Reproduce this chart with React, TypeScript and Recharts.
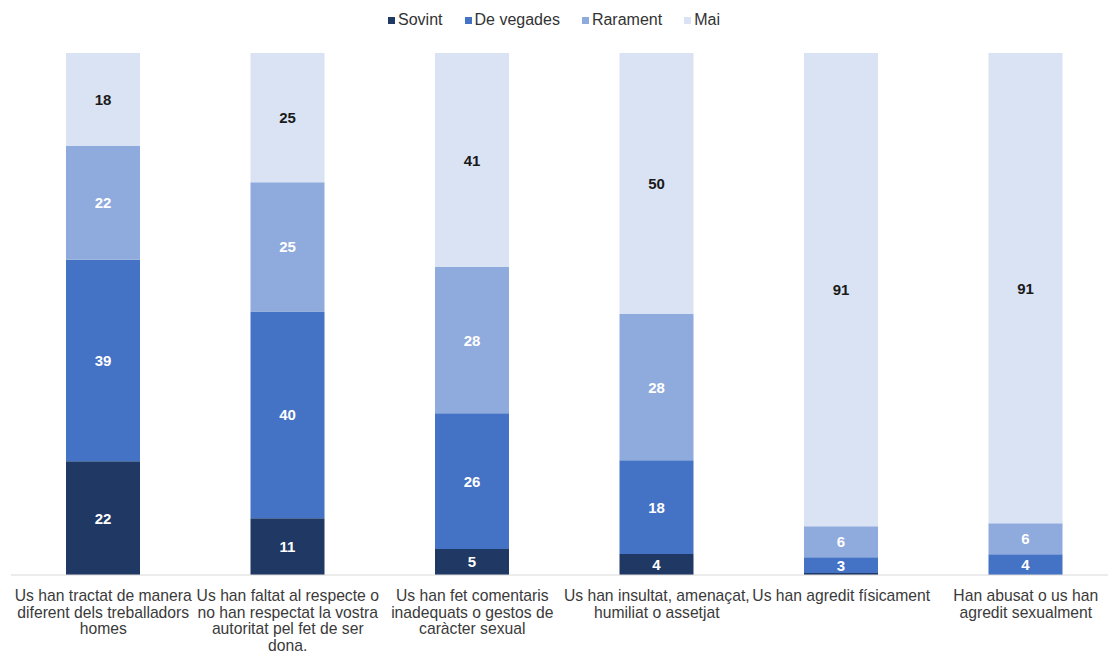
import { BarChart, Bar, XAxis, YAxis, Legend, LabelList } from 'recharts';

const categories = [
    'Us han tractat de manera\ndiferent dels treballadors\nhomes',
    'Us han faltat al respecte o\nno han respectat la vostra\nautoritat pel fet de ser\ndona.',
    'Us han fet comentaris\ninadequats o gestos de\ncaràcter sexual',
    'Us han insultat, amenaçat,\nhumiliat o assetjat',
    'Us han agredit físicament',
    'Han abusat o us han\nagredit sexualment',
];
const sovint = [22, 11, 5, 4, 0.4, 0];
const deVegades = [39, 40, 26, 18, 3, 4];
const rarament = [22, 25, 28, 28, 6, 6];
const mai = [18, 25, 41, 50, 91, 91];

const series = [
    { key: 'sovint', name: 'Sovint', color: '#203864', labelColor: '#ffffff' },
    { key: 'deVegades', name: 'De vegades', color: '#4472C4', labelColor: '#ffffff' },
    { key: 'rarament', name: 'Rarament', color: '#8FAADC', labelColor: '#ffffff' },
    { key: 'mai', name: 'Mai', color: '#DAE3F3', labelColor: '#1a1a1a' },
];

const chartData = categories.map((name, i) => ({
    name,
    sovint: sovint[i],
    deVegades: deVegades[i],
    rarament: rarament[i],
    mai: mai[i],
}));

const FONT = '"Liberation Sans", Arial, sans-serif';

const CategoryTick = ({ x, y, payload }: any) => {
    const lines = String(payload.value).split('\n');
    return (
        <text x={x} y={y} textAnchor="middle" fontFamily={FONT} fontSize={15.7} fill="#3a3a3a">
            {lines.map((line, i) => (
                <tspan key={i} x={x} y={y + 18 + i * 16.7}>{line}</tspan>
            ))}
        </text>
    );
};

const makeLabel = (color: string) => (props: any) => {
    const { x, y, width, height, value } = props;
    if (value == null || value < 1) return null;
    return (
        <text
            x={x + width / 2}
            y={y + height / 2}
            textAnchor="middle"
            dominantBaseline="central"
            fontFamily={FONT}
            fontSize={15}
            fontWeight="bold"
            fill={color}
        >
            {Math.round(value)}
        </text>
    );
};

const TopLegend = () => (
    <div style={{ display: 'flex', justifyContent: 'center', gap: 22, fontFamily: FONT, fontSize: 16, color: '#333', lineHeight: '18px' }}>
        {series.map((s) => (
            <span key={s.key} style={{ display: 'flex', alignItems: 'center' }}>
                <span style={{ width: 7, height: 7, background: s.color, marginRight: 3, display: 'inline-block' }} />
                {s.name}
            </span>
        ))}
    </div>
);

export default function App() {
    return (
        <div style={{ position: 'absolute', left: 0, top: 0, width: 1108, height: 654, overflow: 'hidden', background: '#fff' }}>
            <BarChart
                width={1120}
                height={654}
                data={chartData}
                stackOffset="expand"
                barSize={74}
                margin={{ top: 35, right: 2, left: 11, bottom: 0 }}
            >
                <XAxis
                    dataKey="name"
                    interval={0}
                    height={79}
                    tickLine={false}
                    axisLine={{ stroke: '#d9d9d9' }}
                    tick={<CategoryTick />}
                />
                <YAxis hide domain={[0, 1]} />
                <Legend
                    verticalAlign="top"
                    content={<TopLegend />}
                    wrapperStyle={{ top: 11, left: 0, width: 1108 }}
                />
                {series.map((s) => (
                    <Bar key={s.key} dataKey={s.key} name={s.name} stackId="a" fill={s.color} isAnimationActive={false}>
                        <LabelList dataKey={s.key} content={makeLabel(s.labelColor)} />
                    </Bar>
                ))}
            </BarChart>
        </div>
    );
}
